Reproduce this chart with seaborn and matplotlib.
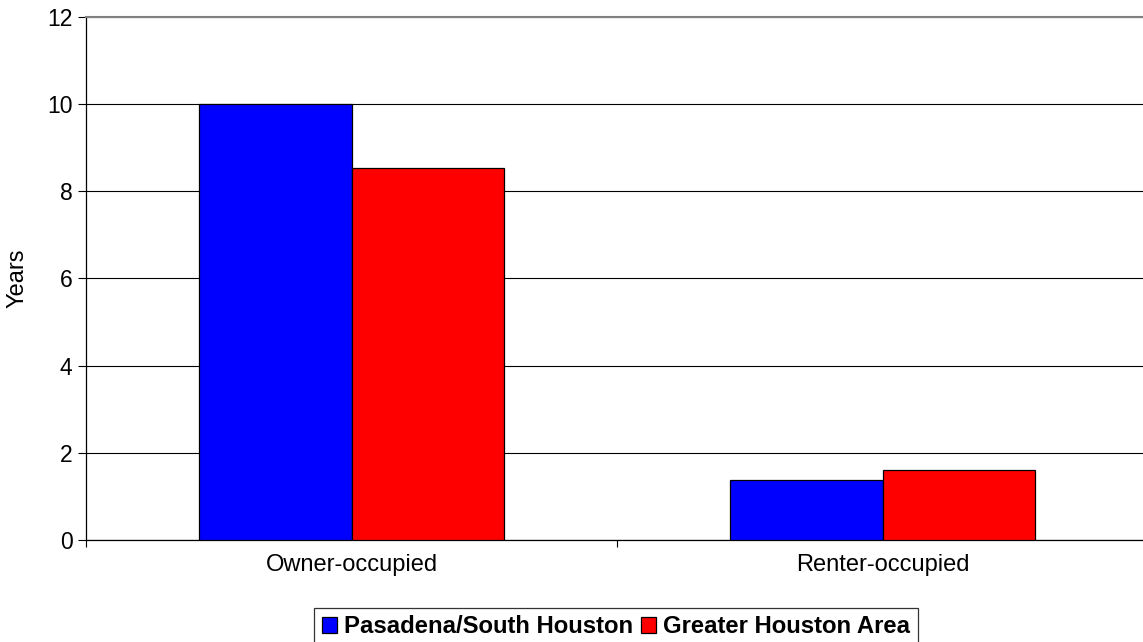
import matplotlib
matplotlib.use("Agg")
import matplotlib.pyplot as plt
import seaborn as sns
import pandas as pd
from matplotlib.patches import Patch

# data
categories = ["Owner-occupied", "Renter-occupied"]
series = ["Pasadena/South Houston", "Greater Houston Area"]
pasadena = [10.0, 1.38]
greater_houston = [8.53, 1.61]
colors = ["#0000FF", "#FF0000"]

df = pd.DataFrame({
    "Tenure": categories * 2,
    "Area": [series[0]] * 2 + [series[1]] * 2,
    "Years": pasadena + greater_houston,
})

sns.set_style("white")
plt.rcParams["font.family"] = ["Liberation Sans", "DejaVu Sans"]
plt.rcParams["text.color"] = "black"
plt.rcParams["axes.labelcolor"] = "black"
plt.rcParams["xtick.color"] = "black"
plt.rcParams["ytick.color"] = "black"

fig = plt.figure(figsize=(11.43, 6.42), dpi=100)
ax = fig.add_axes([86 / 1143, 1 - 540 / 642, 1062 / 1143, (540 - 16.7) / 642])

sns.barplot(data=df, x="Tenure", y="Years", hue="Area", order=categories,
            hue_order=series, palette=colors, width=0.573, saturation=1,
            edgecolor="black", linewidth=0.9, ax=ax, legend=False, zorder=3)

ax.set_xlim(-0.5, 1.5)
ax.set_ylim(0, 12)
ax.set_yticks(range(0, 13, 2))
ax.yaxis.grid(True, color="black", linewidth=0.8, zorder=0)
ax.set_axisbelow(True)

ax.set_xlabel("")
ax.set_ylabel("Years", fontsize=17)
ax.yaxis.set_label_coords(-57 / 1062, 0.5)
ax.tick_params(axis="y", labelsize=16.5, direction="out", length=5.8, width=0.8,
               left=True, pad=4)
ax.tick_params(axis="x", which="major", labelsize=17, length=0, pad=10)
ax.set_xticks([-0.5, 0.5, 1.5], minor=True)
ax.tick_params(axis="x", which="minor", direction="out", length=5, width=0.8,
               bottom=True)

for side in ["left", "bottom"]:
    ax.spines[side].set_color("black")
    ax.spines[side].set_linewidth(0.9)
ax.spines["top"].set_color("#808080")
ax.spines["top"].set_linewidth(1.5)
ax.spines["right"].set_visible(False)

handles = [Patch(facecolor=c, edgecolor="black", linewidth=0.9) for c in colors]
leg = fig.legend(handles, series, loc="upper center",
                 bbox_to_anchor=(616 / 1143, 1 - 608 / 642), ncol=2,
                 frameon=True, fancybox=False, edgecolor="black",
                 prop={"weight": "bold", "size": 17.2},
                 handlelength=0.65, handleheight=0.65, handletextpad=0.3,
                 columnspacing=0.3, borderpad=0.3, borderaxespad=0)
leg.get_frame().set_linewidth(0.9)

fig.savefig("out.png", dpi=100)
